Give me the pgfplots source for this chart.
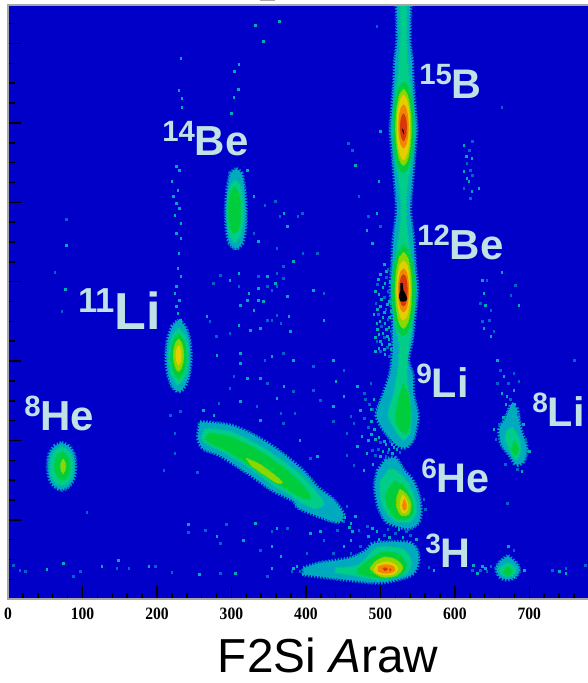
\documentclass[border=0pt]{standalone}
\usepackage{fontspec}
\setmainfont{Liberation Sans}
\newfontfamily\tickfont[FakeStretch=0.9]{Liberation Serif}
\usepackage{pgfplots}
\pgfplotsset{compat=1.18}
\definecolor{bgc}{RGB}{0,0,200}
\definecolor{c0}{RGB}{0,100,200}
\definecolor{c1}{RGB}{0,170,190}
\definecolor{c2}{RGB}{0,205,135}
\definecolor{c3}{RGB}{0,205,60}
\definecolor{c4}{RGB}{140,215,0}
\definecolor{c5}{RGB}{230,205,0}
\definecolor{c6}{RGB}{240,135,0}
\definecolor{c7}{RGB}{215,55,10}
\definecolor{lab}{RGB}{190,226,230}
\pgfplotsset{
 L1/.style={no marks,smooth,forget plot,preaction={draw=c0,line width=3.8pt,dash pattern=on .9pt off 1.5pt},fill=c1,draw=c1,line width=2.4pt,dash pattern=on 1pt off 1.2pt},
 L2/.style={no marks,smooth,forget plot,fill=c2,draw=c2,line width=1.8pt,dash pattern=on 1pt off 1.1pt},
 L3/.style={no marks,smooth,forget plot,fill=c3,draw=c3,line width=1.4pt,dash pattern=on 1pt off 1.1pt},
 L4/.style={no marks,smooth,forget plot,fill=c4,draw=c4,line width=0.9pt,dash pattern=on .8pt off .8pt},
 L5/.style={no marks,smooth,forget plot,fill=c5,draw=none},
 L6/.style={no marks,smooth,forget plot,fill=c6,draw=none},
 L7/.style={no marks,smooth,forget plot,fill=c7,draw=none},
 L8/.style={no marks,smooth,forget plot,fill=black,draw=none},
 S1/.style={only marks,forget plot,mark=square*,mark size=0.55pt,mark options={c1,draw=none,fill=c1}},
 S0/.style={only marks,forget plot,mark=square*,mark size=0.6pt,mark options={c0,draw=none,fill=c0}},
}
\newcommand{\iso}[5]{\node[lab,anchor=base west,inner sep=0pt,font=\bfseries] at ({#1*0.75pt},{(683-#2)*0.75pt}) {\fontsize{#3}{#3}\selectfont\raisebox{#4}{#5}};}
\begin{document}
\begin{tikzpicture}
\path[use as bounding box] (0,0) rectangle (440.25pt,512.25pt);
\fill[black!35] (195pt,511.2pt) rectangle (206pt,512.25pt);
\begin{axis}[
 at={(6pt,62.8pt)},anchor=south west,scale only axis,
 width=436.25pt,height=445.7pt,
 xmin=0,xmax=781,ymin=0,ymax=594.3,
 axis background/.style={fill=bgc},
 axis on top,
 x axis line style={black,line width=1.1pt},
 y axis line style={black!35,line width=1.5pt},
 xtick={0,100,200,300,400,500,600,700},
 minor xtick={20,40,60,80,120,140,160,180,220,240,260,280,320,340,360,380,420,440,460,480,520,540,560,580,620,640,660,680,720,740,760,780},
 ytick={79.4,158.8,238.2,317.6,397,476.4,555.8},
 minor ytick={19.85,39.7,59.55,99.25,119.1,138.95,178.65,198.5,218.35,258.05,277.9,297.75,337.45,357.3,377.15,416.85,436.7,456.55,496.25,516.1,535.95,575.65},
 yticklabels={},
 tick align=inside,tick pos=left,
 major tick length=10pt,minor tick length=5pt,
 tick style={black,line width=1.15pt},
 xticklabel style={font=\tickfont\bfseries\fontsize{13}{13}\selectfont,yshift=-3pt},
 /pgf/number format/assume math mode=true,
 clip=true,
]
% ---- vertical band and 9Li
\addplot[L1] coordinates {(540,600)(539,559)(542,539)(543,519)(546,489)(548,469)(545,444)(543,424)(540,399)(540,384)(544,359)(546,334)(549,309)(545,279)(542,259)(537,239)(543,224)(544,204)(550,184)(547,169)(543,159)(534,152)(523,154)(507,167)(495,184)(504,204)(513,224)(516,239)(517,254)(517,279)(514,309)(516,334)(518,359)(522,384)(522,399)(519,424)(517,444)(514,469)(516,489)(519,519)(520,539)(523,559)(522,600)} -- cycle;
\addplot[L2] coordinates {(535,600)(535,560)(537,530)(541,505)(545,470)(541,440)(537,420)(534,395)(535,375)(539,350)(544,320)(545,300)(541,270)(537,250)(535,225)(539,200)(541,180)(539,166)(530,160)(520,170)(511,185)(518,205)(524,230)(526,255)(520,275)(517,300)(518,320)(523,350)(527,375)(528,395)(525,420)(521,440)(517,470)(521,505)(525,530)(527,560)(527,600)} -- cycle;
\addplot[L3] coordinates {(531,517)(538,511)(543,494)(544,472)(543,450)(538,433)(531,427)(524,433)(519,450)(518,472)(519,494)(524,511)} -- cycle;
\addplot[L3] coordinates {(531,354)(538,348)(544,331)(545.5,309)(544,287)(538,270)(531,264)(524,270)(518,287)(516.5,309)(518,331)(524,348)} -- cycle;
\addplot[L3] coordinates {(531,215)(537,205)(540,190)(540,178)(535,166)(528,168)(522,176)(521,186)(525,202)} -- cycle;
\addplot[L4] coordinates {(531,510)(536,505)(540,491)(541.5,472)(540,453)(536,439)(531,434)(526,439)(522,453)(520.5,472)(522,491)(526,505)} -- cycle;
\addplot[L4] coordinates {(531,347)(536.5,342)(540.5,328)(542,309)(540.5,290)(536.5,276)(531,271)(525.5,276)(521.5,290)(520,309)(521.5,328)(525.5,342)} -- cycle;
\addplot[L5] coordinates {(531,505)(535.5,500)(539,488)(540,472)(539,456)(535.5,444)(531,439)(526.5,444)(523,456)(522,472)(523,488)(526.5,500)} -- cycle;
\addplot[L5] coordinates {(531,339)(536,335)(539,324)(540.5,309)(539,294)(536,283)(531,279)(526,283)(523,294)(521.5,309)(523,324)(526,335)} -- cycle;
\addplot[L6] coordinates {(531,495)(534.5,492)(537,484)(538,473)(537,462)(534.5,454)(531,451)(527.5,454)(525,462)(524,473)(525,484)(527.5,492)} -- cycle;
\addplot[L6] coordinates {(531,331)(535,328)(537.5,320)(538.5,309)(537.5,298)(535,290)(531,287)(527,290)(524.5,298)(523.5,309)(524.5,320)(527,328)} -- cycle;
\addplot[L7] coordinates {(531,486)(533,484)(535,479)(535.5,472)(535,465)(533,460)(531,458)(529,460)(527,465)(526.5,472)(527,479)(529,484)} -- cycle;
\addplot[L7] coordinates {(531,325)(534,323)(536,317)(536.5,309)(536,301)(534,295)(531,293)(528,295)(526,301)(525.5,309)(526,317)(528,323)} -- cycle;
\addplot[L8] coordinates {(527,316)(530,316)(531,309)(534,305)(536,300)(533,298)(527,298)(525,303)(527,309)} -- cycle;
\addplot[L8] coordinates {(529,471)(531,469)(532,465)(530,467)} -- cycle;
% ---- 14Be
\addplot[L1] coordinates {(306,430)(313,426)(317,410)(319,390)(318,370)(314,356)(306,351)(298,356)(294,370)(293,390)(295,410)(299,426)} -- cycle;
\addplot[L2] coordinates {(305,419)(311,414)(314,402)(316,387)(314,372)(310,362)(305,357)(299,362)(296,372)(295,387)(296,402)(299,414)} -- cycle;
\addplot[L3] coordinates {(304,412)(308,409)(311,401)(312,388)(311,376)(308,369)(304,366)(300,369)(297,376)(296,388)(297,401)(300,409)} -- cycle;
% ---- 11Li
\addplot[L1] coordinates {(229,279)(237,273)(243,260)(245,243)(243,226)(237,213)(229,208)(221,213)(215,226)(213,243)(215,260)(221,273)} -- cycle;
\addplot[L2] coordinates {(229,271)(235,266)(240,257)(242,243)(240,229)(235,220)(229,215)(223,220)(218,229)(216,243)(218,257)(223,266)} -- cycle;
\addplot[L3] coordinates {(229,265)(234,261)(238,254)(239,243)(238,232)(234,225)(229,221)(224,225)(220,232)(219,243)(220,254)(224,261)} -- cycle;
\addplot[L4] coordinates {(229,260)(232.5,257)(235,251)(236,244)(235,237)(232.5,231)(229,228)(225.5,231)(223,237)(222,244)(223,251)(225.5,257)} -- cycle;
\addplot[L5] coordinates {(229,254)(231,252)(232.5,248)(233,244)(232.5,240)(231,236)(229,234)(227,236)(225.5,240)(225,244)(225.5,248)(227,252)} -- cycle;
% ---- 8He
\addplot[L1] coordinates {(72,156)(81,153)(88,145)(90,133)(88,121)(81,113)(72,110)(63,113)(56,121)(54,133)(56,145)(63,153)} -- cycle;
\addplot[L2] coordinates {(72,152)(80,149)(85,143)(87,133)(85,123)(80,117)(72,114)(64,117)(59,123)(57,133)(59,143)(64,149)} -- cycle;
\addplot[L3] coordinates {(73,147)(78,145)(82,140)(83,133)(82,126)(78,121)(73,119)(68,121)(64,126)(63,133)(64,140)(68,145)} -- cycle;
\addplot[L4] coordinates {(74,140)(76,138)(77.5,134)(77,130)(74,126)(72,128)(70.5,132)(71.5,137)} -- cycle;
% ---- diagonal band
\addplot[L1] coordinates {(258,177)(302,173)(348,156)(392,131)(415,112)(437,99)(450,85)(446,78)(433,79)(392,91)(383,99)(356,109)(321,127)(285,144)(262,151)(255,162)} -- cycle;
\addplot[L2] coordinates {(265,170)(300,167)(345,150)(388,127)(412,108)(424,96)(412,91)(392,98)(378,105)(355,115)(320,134)(288,148)(268,155)(260,162)} -- cycle;
\addplot[L3] coordinates {(270,166)(300,162)(342,146)(382,124)(402,108)(406,100)(392,103)(370,112)(345,124)(315,139)(290,150)(272,156)(265,160)} -- cycle;
\addplot[L4] coordinates {(320,141)(340,134)(360,123)(368,117)(362,116)(345,124)(326,134)} -- cycle;
% ---- 6He
\addplot[L1] coordinates {(507,139)(520,141)(531,129)(543,119)(551,104)(554,89)(551,77)(538,71)(520,74)(507,79)(497,94)(493,114)(497,129)} -- cycle;
\addplot[L2] coordinates {(512,130)(522,128)(535,118)(545,103)(548,88)(540,78)(522,78)(510,85)(501,100)(500,118)} -- cycle;
\addplot[L3] coordinates {(518,118)(530,114)(540,102)(544,88)(535,80)(522,81)(510,92)(507,105)} -- cycle;
\addplot[L4] coordinates {(526,110)(535,105)(541,95)(538,85)(528,84)(522,92)(522,102)} -- cycle;
\addplot[L5] coordinates {(530,105)(535,100)(538,93)(535,87)(530,86)(526,92)(527,100)} -- cycle;
\addplot[L6] coordinates {(532,101)(535,96)(535,90)(531,89)(529,94)} -- cycle;
% ---- 3H
\addplot[L1] coordinates {(397,31)(419,36)(460,41)(482,49)(493,56)(540,56)(551,42)(544,26)(517,19)(496,17)(464,19)(419,23)(397,25)} -- cycle;
\addplot[L2] coordinates {(440,31)(470,34)(490,48)(500,52)(530,50)(541,38)(535,26)(515,22)(495,20)(465,24)(440,27)} -- cycle;
\addplot[L3] coordinates {(470,30)(490,42)(505,47)(525,45)(535,33)(525,24)(505,21)(485,23)(470,26)} -- cycle;
\addplot[L4] coordinates {(492,37)(505,42)(520,40)(530,32)(522,24)(505,22)(492,26)(486,31)} -- cycle;
\addplot[L5] coordinates {(495,35)(508,38)(520,35)(524,30)(518,25)(505,24)(495,26)(491,30)} -- cycle;
\addplot[L6] coordinates {(497,33)(508,35)(518,33)(520,29)(514,26)(503,26)(496,28)} -- cycle;
\addplot[L7] coordinates {(503,31)(507,32)(510,30)(506,28)} -- cycle;
\addplot[L7] coordinates {(512,31)(515,30)(513,28)} -- cycle;
% ---- peak near 670
\addplot[L1] coordinates {(671,43)(682,36)(686,29)(680,22)(670,20)(660,23)(656,31)(662,38)} -- cycle;
\addplot[L2] coordinates {(671,36)(680,32)(681,27)(672,23)(662,26)(660,31)} -- cycle;
\addplot[L3] coordinates {(671,32)(676,30)(676,26)(670,24)(665,27)} -- cycle;
% ---- 8Li
\addplot[L1] coordinates {(676,195)(683,190)(688,170)(696,152)(692,138)(682,135)(675,143)(663,155)(660,170)(668,180)} -- cycle;
\addplot[L2] coordinates {(677,172)(686,160)(688,148)(682,140)(675,148)(668,160)(670,168)} -- cycle;
\addplot[L3] coordinates {(680,158)(685,150)(682,144)(676,150)} -- cycle;
% ---- isolated counts
\addplot[S1] coordinates {(226,433)(230,429)(220,418)(228,409)(222,403)(226,396)(230,391)(224,384)(232,376)(226,366)(232,361)(229,346)(228,331)(232,323)(226,313)(224,306)(230,299)(226,293)(228,286)(232,279)
(232,541)(229,509)(233,501)(233,492)(304,528)(309,510)(303,502)(300,486)(332,574)(343,558)(364,578)(310,535)
(78,354)(77,310)(321,429)(330,403)(370,386)(375,373)(336,358)(383,338)(348,323)(310,326)(298,319)(323,306)(336,311)(359,316)(321,299)(336,299)(343,298)(375,303)(312,294)(330,289)(377,283)(339,271)(310,274)(267,283)(325,269)(379,268)
(280,244)(312,246)(354,243)(383,239)(321,221)(339,221)(370,213)(262,189)(312,236)(361,201)(339,179)(312,198)(276,184)(392,159)
(437,239)(440,218)(469,213)(473,189)(437,193)(451,203)(475,163)(484,159)(415,143)(469,153)(482,146)(478,129)
(505,335)(500,325)(513,318)(503,312)(498,305)(512,298)(500,293)(514,288)(503,282)(495,276)(508,270)(498,265)(511,260)(502,255)(514,250)(506,245)
(508,328)(497,320)(506,316)(493,308)(501,300)(509,295)(496,290)(505,287)(512,282)(499,278)(491,285)(506,276)(511,272)(496,270)(503,266)(509,263)(493,262)(500,258)(512,255)(498,251)(505,250)(493,248)
(410,309)(424,279)(482,369)(495,386)(498,418)(466,434)(500,468)(489,356)
(612,454)(615,443)(623,441)(612,428)(616,421)(619,418)(623,408)(632,411)
(637,319)(663,327)(639,306)(641,294)(686,294)(639,271)(648,263)(657,239)(666,223)(679,209)(663,206)(670,203)
(625,34)(641,31)(630,26)(637,33)(572,29)(672,53)(693,29)(740,28)(749,26)
(52,30)(74,36)(126,33)(148,39)(189,33)(257,25)(305,26)(354,31)(366,43)(383,31)(388,33)(242,75)(280,63)(316,59)(354,53)(361,71)(332,76)
(419,68)(460,76)(484,63)(451,53)(460,59)(406,66)(433,86)(466,83)(489,71)(478,46)(452,82)(458,72)(462,68)(445,88)
(493,160)(507,155)(518,152)(503,148)(516,146)(522,150)(500,143)(490,135)(488,178)(492,170)(495,68)(512,62)(530,62)(498,60)(525,70)(548,60)
(498,162)(505,158)(511,150)(515,155)(488,190)(491,200)(488,165)
(668,195)(680,195)(665,182)(692,175)(700,148)(652,170)(690,128)};
\addplot[S0] coordinates {(78,380)(63,327)(72,288)(345,394)(359,398)(365,383)(389,383)(330,366)(361,351)(370,333)(361,326)(336,323)(285,324)(276,316)(310,313)(348,313)(370,321)(361,313)(354,309)(348,279)(361,284)(271,278)(298,266)(280,263)(354,279)(366,276)
(345,239)(370,246)(303,223)(298,211)(348,216)(383,208)(366,186)(334,193)(370,176)(283,196)(385,186)
(410,233)(451,229)(410,209)(478,206)(460,183)(487,216)(478,181)(419,199)(455,166)(464,176)(437,178)(406,141)(455,144)(464,134)(489,149)(493,144)
(510,330)(508,322)(496,315)(510,308)(505,302)(494,296)(507,290)(497,285)(510,280)(501,273)(514,268)(505,262)(495,258)(509,252)(500,248)(512,243)
(424,306)(415,346)(396,346)(395,386)(471,403)(462,449)(457,456)(495,573)(484,383)(500,373)
(623,458)(619,449)(616,436)(621,429)(623,424)(612,411)(621,401)(663,492)
(643,319)(681,314)(634,296)(648,289)(675,304)(646,279)(652,268)(637,278)(661,229)(672,216)(657,216)(686,218)(679,226)(760,239)
(634,29)(648,33)(623,29)(643,28)(565,32)(679,49)(731,29)(749,31)(775,34)(670,96)
(7,34)(16,29)(23,28)(88,23)(97,28)(146,31)(162,31)(198,33)(220,27)(285,26)(348,23)(392,28)(381,28)(106,87)(242,67)(265,69)(285,56)(339,49)(354,68)(375,71)(293,75)(209,129)(254,127)(224,146)(224,166)(218,184)(231,188)
(451,78)(471,69)(473,53)(437,46)(424,59)(442,69)(482,73)(455,93)(460,46)(401,46)
(500,157)(513,158)(497,150)(510,147)(494,144)(526,147)(507,143)(480,200)(485,195)(490,190)(484,172)(505,64)(520,66)(540,64)(510,70)(535,68)(560,90)(558,100)
(674,200)(685,185)(660,175)(695,160)(655,160)(668,135)(684,130)};
\end{axis}
\iso{419}{99}{31}{0pt}{\raisebox{11pt}{\fontsize{22}{22}\selectfont 15}B}
\iso{162}{156}{31.5}{0pt}{\raisebox{11pt}{\fontsize{22}{22}\selectfont 14}Be}
\iso{417}{260}{31.5}{0pt}{\raisebox{11pt}{\fontsize{22}{22}\selectfont 12}Be}
\iso{78}{330}{39}{0pt}{\raisebox{13pt}{\fontsize{26}{26}\selectfont 11}Li}
\iso{24}{431}{31.5}{0pt}{\raisebox{11pt}{\fontsize{22}{22}\selectfont 8}He}
\iso{416}{398}{31}{0pt}{\raisebox{11pt}{\fontsize{21}{21}\selectfont 9}Li}
\iso{532}{427}{31}{0pt}{\raisebox{11pt}{\fontsize{21}{21}\selectfont 8}Li}
\iso{421}{493}{31}{0pt}{\raisebox{11pt}{\fontsize{21}{21}\selectfont 6}He}
\iso{425}{568}{31}{0pt}{\raisebox{11pt}{\fontsize{21}{21}\selectfont 3}H}
\node[black,anchor=base,inner sep=0pt,font=\fontsize{35.8}{36}\selectfont] at (246pt,8.2pt) {F2Si \textit{A}raw};
\end{tikzpicture}
\end{document}
